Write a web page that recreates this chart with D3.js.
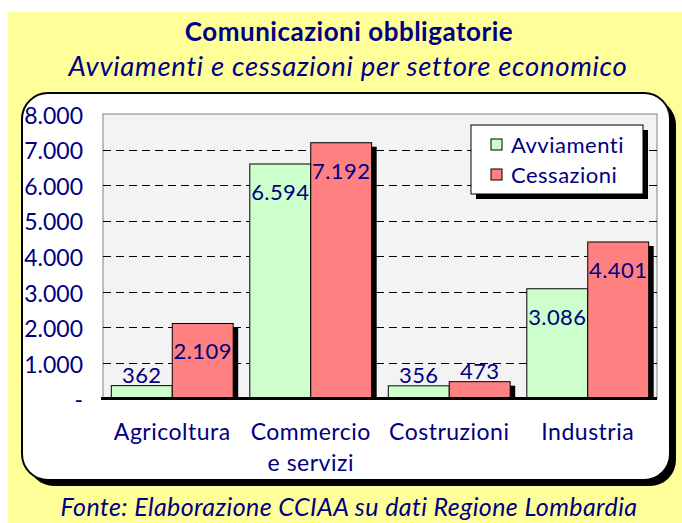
<!DOCTYPE html>
<html>
<head>
<meta charset="utf-8">
<script src="https://cdn.jsdelivr.net/npm/d3@7"></script>
<style>
  html, body { margin: 0; padding: 0; background: #fff; }
  svg { display: block; }
  text { font-family: Lato, "Open Sans", sans-serif; }
</style>
</head>
<body>
<svg id="chart" width="682" height="523"></svg>
<script>
// Settori economici e valori delle comunicazioni obbligatorie
const categories = [["Agricoltura"], ["Commercio", "e servizi"], ["Costruzioni"], ["Industria"]];
const seriesNames = ["Avviamenti", "Cessazioni"];
const avviamenti = [362, 6594, 356, 3086];
const cessazioni = [2109, 7192, 473, 4401];
const yTicks = [0, 1000, 2000, 3000, 4000, 5000, 6000, 7000, 8000];

const colors = ["#ccffcc", "#ff8080"];
const navy = "#000080";

const svg = d3.select("#chart");
const W = 682, H = 523;

// Fondo giallo
svg.append("rect").attr("x", 8).attr("y", 12).attr("width", W - 8).attr("height", H - 12).attr("fill", "#ffff99");

// Titoli
svg.append("text").attr("x", 349).attr("y", 41).attr("text-anchor", "middle")
  .attr("font-size", 26).attr("font-weight", "bold").attr("letter-spacing", 0.5).attr("fill", navy)
  .text("Comunicazioni obbligatorie");
svg.append("text").attr("x", 348).attr("y", 76).attr("text-anchor", "middle")
  .attr("font-size", 27.5).attr("font-style", "italic").attr("letter-spacing", 0.7).attr("fill", navy)
  .text("Avviamenti e cessazioni per settore economico");

// Riquadro bianco arrotondato con ombra
const box = { x: 22, y: 93, w: 648, h: 387 };
svg.append("rect").attr("x", box.x + 6).attr("y", box.y + 6).attr("width", box.w).attr("height", box.h)
  .attr("rx", 26).attr("fill", "#000");
svg.append("rect").attr("x", box.x).attr("y", box.y).attr("width", box.w).attr("height", box.h)
  .attr("rx", 26).attr("fill", "#fff").attr("stroke", "#000").attr("stroke-width", 2);

// Area del grafico
const plot = { left: 103, top: 114, right: 657, bottom: 398.5 };
svg.append("rect").attr("x", plot.left).attr("y", plot.top)
  .attr("width", plot.right - plot.left).attr("height", plot.bottom - plot.top)
  .attr("fill", "#f3f3f3").attr("stroke", "#808080").attr("stroke-width", 1);

const y = d3.scaleLinear().domain([0, 8000]).range([plot.bottom, plot.top]);
const x0 = d3.scaleBand().domain(d3.range(categories.length)).range([plot.left, plot.right]).paddingInner(0.12).paddingOuter(0.06);
const x1 = d3.scaleBand().domain(d3.range(seriesNames.length)).range([0, x0.bandwidth()]);

// Griglia tratteggiata
svg.append("g").selectAll("line").data(yTicks.filter(t => t > 0 && t < 8000)).join("line")
  .attr("x1", plot.left).attr("x2", plot.right)
  .attr("y1", d => Math.round(y(d)) + 0.5).attr("y2", d => Math.round(y(d)) + 0.5)
  .attr("stroke", "#000").attr("stroke-width", 1).attr("stroke-dasharray", "8,5");

// Asse Y
const fmt = d => d === 0 ? "-" : d3.format(",")(d).replace(/,/g, ".");
const yAxis = svg.append("g").attr("transform", `translate(${plot.left},0)`)
  .call(d3.axisLeft(y).tickValues(yTicks).tickFormat(fmt).tickSize(0).tickPadding(20));
yAxis.select(".domain").remove();
yAxis.selectAll("text").attr("font-size", 23).attr("fill", navy)
  .attr("font-family", "Lato, sans-serif").attr("dy", "0.4em");

const data = categories.map((c, i) => ({ i, values: [avviamenti[i], cessazioni[i]] }));

// Barre con ombra
const groups = svg.append("g").selectAll("g").data(data).join("g")
  .attr("transform", d => `translate(${x0(d.i)},0)`);

groups.each(function (d) {
  const g = d3.select(this);
  d.values.forEach((v, s) => {
    const bx = x1(s), bw = x1.bandwidth();
    g.append("rect").attr("x", bx + 5).attr("y", y(v) + 4).attr("width", bw)
      .attr("height", plot.bottom - y(v) - 4).attr("fill", "#000");
  });
  d.values.forEach((v, s) => {
    const bx = x1(s), bw = x1.bandwidth();
    g.append("rect").attr("x", bx).attr("y", y(v)).attr("width", bw)
      .attr("height", plot.bottom - y(v)).attr("fill", colors[s])
      .attr("stroke", "#000").attr("stroke-width", 1);
  });
  d.values.forEach((v, s) => {
    const inside = v > 1000;
    g.append("text").attr("x", x1(s) + x1.bandwidth() / 2)
      .attr("y", inside ? y(v) + 36 : y(v) - 3)
      .attr("text-anchor", "middle").attr("font-size", 22).attr("letter-spacing", 0.4).attr("fill", navy)
      .text(fmt(v));
  });
});

// Linea di base
svg.append("line").attr("x1", plot.left - 2).attr("x2", plot.right).attr("y1", plot.bottom).attr("y2", plot.bottom)
  .attr("stroke", "#000").attr("stroke-width", 3);

// Etichette categorie
svg.append("g").selectAll("text").data(categories.map((c, i) => ({ c, i }))).join("text")
  .attr("x", d => x0(d.i) + x0.bandwidth() / 2).attr("y", 440)
  .attr("text-anchor", "middle").attr("font-size", 23).attr("letter-spacing", 0.5).attr("fill", navy)
  .each(function (d) {
    d3.select(this).selectAll("tspan").data(d.c).join("tspan")
      .attr("x", x0(d.i) + x0.bandwidth() / 2).attr("dy", (t, k) => k === 0 ? 0 : 31).text(t => t);
  });

// Legenda
const leg = { x: 471, y: 125, w: 172, h: 69 };
svg.append("rect").attr("x", leg.x + 5).attr("y", leg.y + 5).attr("width", leg.w).attr("height", leg.h).attr("fill", "#000");
svg.append("rect").attr("x", leg.x).attr("y", leg.y).attr("width", leg.w).attr("height", leg.h)
  .attr("fill", "#fff").attr("stroke", "#000").attr("stroke-width", 1);
seriesNames.forEach((n, s) => {
  const cy = 145 + s * 30;
  svg.append("rect").attr("x", 491).attr("y", cy - 6).attr("width", 11).attr("height", 11)
    .attr("fill", colors[s]).attr("stroke", "#000").attr("stroke-width", 1);
  svg.append("text").attr("x", 511).attr("y", cy + 8).attr("font-size", 22).attr("letter-spacing", 0.5)
    .attr("fill", navy).text(n);
});

// Fonte
svg.append("text").attr("x", 349).attr("y", 516).attr("text-anchor", "middle")
  .attr("font-size", 25).attr("font-style", "italic").attr("letter-spacing", 0.4).attr("fill", navy)
  .text("Fonte: Elaborazione CCIAA su dati Regione Lombardia");
</script>
</body>
</html>
